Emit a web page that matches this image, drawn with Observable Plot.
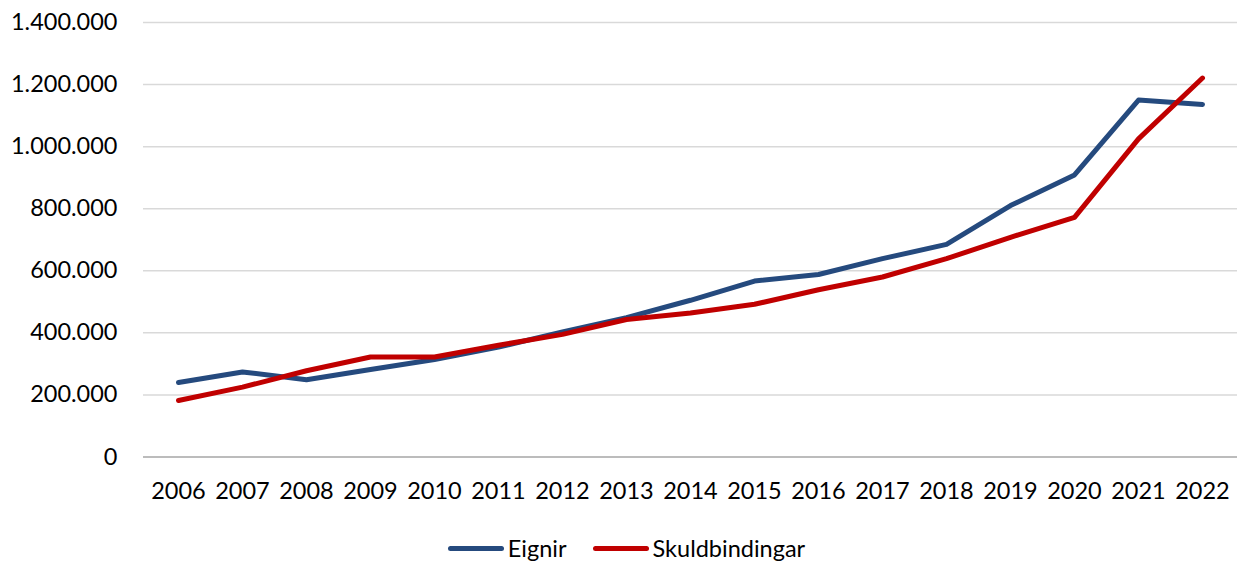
<!DOCTYPE html>
<html>
<head>
<meta charset="utf-8">
<script src="https://cdn.jsdelivr.net/npm/d3@7"></script>
<script src="https://cdn.jsdelivr.net/npm/@observablehq/plot@0.6"></script>
<style>
  html, body { margin: 0; padding: 0; background: #fff; }
  body { width: 1237px; height: 565px; overflow: hidden; font-family: Lato, "Open Sans", sans-serif; }
  #legend { height: 34px; display: flex; justify-content: center; align-items: center; font-size: 23.5px; color: #000; padding-left: 16px; }
  .item { display: flex; align-items: center; margin: 0 13px; }
  .swatch { width: 56px; height: 5px; border-radius: 3px; margin-right: 4px; }
</style>
</head>
<body>
<div id="chart"></div>
<div id="legend"></div>
<script>
const years = [2006, 2007, 2008, 2009, 2010, 2011, 2012, 2013, 2014, 2015, 2016, 2017, 2018, 2019, 2020, 2021, 2022];
const eignir = [240000, 274000, 249000, 282000, 314000, 354000, 403000, 449000, 505000, 567000, 588000, 639000, 685000, 810000, 909000, 1150000, 1136000];
const skuldbindingar = [182000, 225000, 278000, 322000, 322000, 360000, 395000, 443000, 464000, 492000, 539000, 580000, 639000, 708000, 772000, 1025000, 1221000];
const yTicks = [0, 200000, 400000, 600000, 800000, 1000000, 1200000, 1400000];
const seriesNames = ["Eignir", "Skuldbindingar"];
const seriesColors = ["#254A7E", "#C00000"];

const data = [];
years.forEach((yr, i) => {
  data.push({year: String(yr), value: eignir[i], series: seriesNames[0]});
  data.push({year: String(yr), value: skuldbindingar[i], series: seriesNames[1]});
});

const fmt = v => d3.format(",")(v).replace(/,/g, ".");

const chart = Plot.plot({
  width: 1237,
  height: 531,
  marginTop: 22,
  marginBottom: 74.5,
  marginLeft: 143,
  marginRight: 0,
  style: {fontFamily: "Lato, 'Open Sans', sans-serif", fontSize: "23.5px", color: "#000", background: "#fff"},
  x: {type: "point", domain: years.map(String), padding: 0.5, label: null, tickSize: 0, tickPadding: 25},
  y: {domain: [0, 1400000], ticks: yTicks, tickFormat: fmt, label: null, tickSize: 0, tickPadding: 26},
  color: {domain: seriesNames, range: seriesColors},
  marks: [
    Plot.gridY(yTicks.filter(d => d > 0), {stroke: "#d9d9d9", strokeOpacity: 1, strokeWidth: 1.5}),
    Plot.ruleY([0], {stroke: "#a6a6a6", strokeWidth: 1.5}),
    Plot.line(data, {x: "year", y: "value", z: "series", stroke: "series", strokeWidth: 5, strokeLinejoin: "round", strokeLinecap: "round"})
  ]
});
document.getElementById("chart").appendChild(chart);

const legend = document.getElementById("legend");
seriesNames.forEach((name, i) => {
  const item = document.createElement("div");
  item.className = "item";
  const sw = document.createElement("div");
  sw.className = "swatch";
  sw.style.background = seriesColors[i];
  const label = document.createElement("span");
  label.textContent = name;
  item.appendChild(sw);
  item.appendChild(label);
  legend.appendChild(item);
});
</script>
</body>
</html>
